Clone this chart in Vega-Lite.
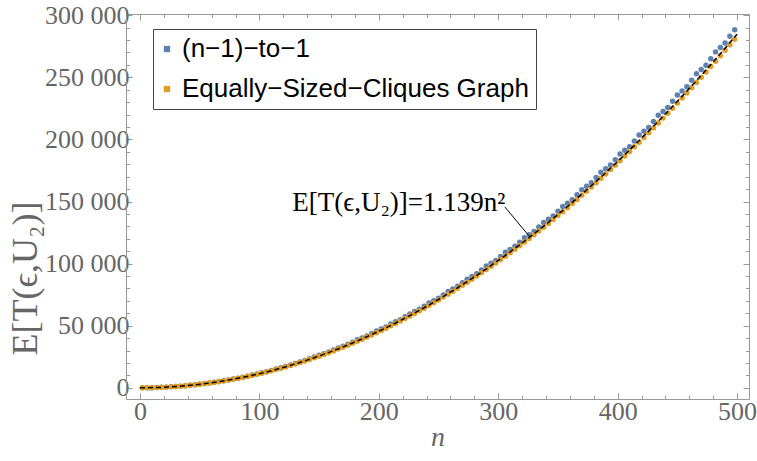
{
  "$schema": "https://vega.github.io/schema/vega-lite/v6.json",
  "width": 623,
  "height": 385,
  "autosize": {"type": "none"},
  "padding": {"left": 126, "top": 14, "right": 8, "bottom": 62},
  "background": "white",
  "config": {
    "view": {"stroke": null},
    "axis": {
      "grid": false,
      "domainColor": "#999999",
      "tickColor": "#999999",
      "labelColor": "#666666",
      "labelFont": "Liberation Serif",
      "labelFontSize": 26,
      "titleFont": "Liberation Serif",
      "titleColor": "#666666",
      "titleFontWeight": "normal",
      "domainWidth": 1,
      "tickWidth": 1,
      "labelOverlap": false,
      "labelFlush": false
    }
  },
  "layer": [
    {
      "data": {
        "values": [
          {"n": 2, "a": 5, "b": 5}, {"n": 6, "a": 42, "b": 41}, {"n": 10, "a": 116, "b": 113}, {"n": 14, "a": 227, "b": 222},
          {"n": 18, "a": 376, "b": 367}, {"n": 22, "a": 561, "b": 548}, {"n": 26, "a": 784, "b": 765}, {"n": 30, "a": 1044, "b": 1019},
          {"n": 34, "a": 1341, "b": 1309}, {"n": 38, "a": 1675, "b": 1635}, {"n": 42, "a": 2046, "b": 1997}, {"n": 46, "a": 2455, "b": 2395},
          {"n": 50, "a": 2900, "b": 2830}, {"n": 54, "a": 3383, "b": 3301}, {"n": 58, "a": 3902, "b": 3808}, {"n": 62, "a": 4459, "b": 4351},
          {"n": 66, "a": 5053, "b": 4931}, {"n": 70, "a": 5684, "b": 5547}, {"n": 74, "a": 6352, "b": 6199}, {"n": 78, "a": 7057, "b": 6887},
          {"n": 82, "a": 7800, "b": 7612}, {"n": 86, "a": 8579, "b": 8372}, {"n": 90, "a": 9396, "b": 9169}, {"n": 94, "a": 10250, "b": 10002},
          {"n": 98, "a": 11141, "b": 10872}, {"n": 102, "a": 12069, "b": 11777}, {"n": 106, "a": 13034, "b": 12719}, {"n": 110, "a": 14036, "b": 13697},
          {"n": 114, "a": 15075, "b": 14711}, {"n": 118, "a": 16152, "b": 15762}, {"n": 122, "a": 17265, "b": 16849}, {"n": 126, "a": 18416, "b": 17972},
          {"n": 130, "a": 19604, "b": 19131}, {"n": 134, "a": 20829, "b": 20326}, {"n": 138, "a": 22091, "b": 21558}, {"n": 142, "a": 23390, "b": 22826},
          {"n": 146, "a": 24727, "b": 24130}, {"n": 150, "a": 26250, "b": 25470}, {"n": 154, "a": 27511, "b": 26847}, {"n": 158, "a": 28850, "b": 28259},
          {"n": 162, "a": 30443, "b": 29708}, {"n": 166, "a": 32150, "b": 31193}, {"n": 170, "a": 33524, "b": 32715}, {"n": 174, "a": 35000, "b": 34272},
          {"n": 178, "a": 36753, "b": 35866}, {"n": 182, "a": 38650, "b": 37496}, {"n": 186, "a": 40131, "b": 39163}, {"n": 190, "a": 41700, "b": 40865},
          {"n": 194, "a": 43658, "b": 42604}, {"n": 198, "a": 45750, "b": 44379}, {"n": 202, "a": 47333, "b": 46190}, {"n": 206, "a": 49000, "b": 48038},
          {"n": 210, "a": 51400, "b": 49921}, {"n": 214, "a": 53123, "b": 51841}, {"n": 218, "a": 54850, "b": 53797}, {"n": 222, "a": 57169, "b": 55789},
          {"n": 226, "a": 59550, "b": 57818}, {"n": 230, "a": 61364, "b": 59883}, {"n": 234, "a": 63250, "b": 61984}, {"n": 238, "a": 65707, "b": 64121},
          {"n": 242, "a": 68300, "b": 66294}, {"n": 246, "a": 70199, "b": 68504}, {"n": 250, "a": 72200, "b": 70750}, {"n": 254, "a": 74839, "b": 73032},
          {"n": 258, "a": 77600, "b": 75350}, {"n": 262, "a": 79627, "b": 77705}, {"n": 266, "a": 81750, "b": 80096}, {"n": 270, "a": 84564, "b": 82523},
          {"n": 274, "a": 87500, "b": 84986}, {"n": 278, "a": 89649, "b": 87485}, {"n": 282, "a": 91900, "b": 90021}, {"n": 286, "a": 94883, "b": 92593},
          {"n": 290, "a": 98000, "b": 95201}, {"n": 294, "a": 100266, "b": 97846}, {"n": 298, "a": 102600, "b": 100526}, {"n": 302, "a": 105797, "b": 103243},
          {"n": 306, "a": 109100, "b": 105996}, {"n": 310, "a": 111476, "b": 108785}, {"n": 314, "a": 113950, "b": 111611}, {"n": 318, "a": 117304, "b": 114472},
          {"n": 322, "a": 120800, "b": 117370}, {"n": 326, "a": 123280, "b": 120304}, {"n": 330, "a": 125850, "b": 123275}, {"n": 334, "a": 129405, "b": 126281},
          {"n": 338, "a": 133100, "b": 129324}, {"n": 342, "a": 135678, "b": 132403}, {"n": 346, "a": 138300, "b": 135519}, {"n": 350, "a": 142100, "b": 138670},
          {"n": 354, "a": 145950, "b": 141858}, {"n": 358, "a": 148670, "b": 145082}, {"n": 362, "a": 151400, "b": 148342}, {"n": 366, "a": 155389, "b": 151638},
          {"n": 370, "a": 159500, "b": 154971}, {"n": 374, "a": 162256, "b": 158340}, {"n": 378, "a": 165100, "b": 161745}, {"n": 382, "a": 169272, "b": 165186},
          {"n": 386, "a": 173550, "b": 168663}, {"n": 390, "a": 176436, "b": 172177}, {"n": 394, "a": 179350, "b": 175727}, {"n": 398, "a": 183749, "b": 179313},
          {"n": 402, "a": 188250, "b": 182936}, {"n": 406, "a": 191210, "b": 186594}, {"n": 410, "a": 194200, "b": 190289}, {"n": 414, "a": 198819, "b": 194020},
          {"n": 418, "a": 203500, "b": 197788}, {"n": 422, "a": 206577, "b": 201591}, {"n": 426, "a": 209700, "b": 205431}, {"n": 430, "a": 214484, "b": 209307},
          {"n": 434, "a": 219400, "b": 213219}, {"n": 438, "a": 222539, "b": 217167}, {"n": 442, "a": 225800, "b": 221152}, {"n": 446, "a": 230743, "b": 225173},
          {"n": 450, "a": 235800, "b": 229230}, {"n": 454, "a": 239095, "b": 233323}, {"n": 458, "a": 242400, "b": 237453}, {"n": 462, "a": 247595, "b": 241619},
          {"n": 466, "a": 252900, "b": 245821}, {"n": 470, "a": 256244, "b": 250059}, {"n": 474, "a": 259700, "b": 254333}, {"n": 478, "a": 265041, "b": 258644},
          {"n": 482, "a": 270500, "b": 262991}, {"n": 486, "a": 273987, "b": 267374}, {"n": 490, "a": 277600, "b": 271793}, {"n": 494, "a": 283082, "b": 276249},
          {"n": 498, "a": 288300, "b": 280741}
        ]
      },
      "transform": [{"fold": ["a", "b"], "as": ["s", "v"]}],
      "mark": {"type": "point", "filled": true, "shape": "circle", "size": 30, "opacity": 1},
      "encoding": {
        "x": {
          "field": "n", "type": "quantitative",
          "scale": {"domain": [-11.7, 510], "nice": false, "zero": false},
          "axis": {
            "orient": "bottom",
            "values": [0, 20, 40, 60, 80, 100, 120, 140, 160, 180, 200, 220, 240, 260, 280, 300, 320, 340, 360, 380, 400, 420, 440, 460, 480, 500],
            "labelExpr": "datum.value % 100 === 0 ? datum.label : ''",
            "tickSize": {"condition": {"test": "datum.value % 100 === 0", "value": -6}, "value": -3.5},
            "labelPadding": 5,
            "title": "n",
            "titleFontStyle": "italic",
            "titleFontSize": 28,
            "titlePadding": -3
          }
        },
        "y": {
          "field": "v", "type": "quantitative",
          "scale": {"domain": [-9000, 301000], "nice": false, "zero": false},
          "axis": {
            "orient": "left",
            "values": [0, 10000, 20000, 30000, 40000, 50000, 60000, 70000, 80000, 90000, 100000, 110000, 120000, 130000, 140000, 150000, 160000, 170000, 180000, 190000, 200000, 210000, 220000, 230000, 240000, 250000, 260000, 270000, 280000, 290000, 300000],
            "labelExpr": "datum.value % 50000 === 0 ? replace(format(datum.value, ','), ',', ' ') : ''",
            "tickSize": {"condition": {"test": "datum.value % 50000 === 0", "value": -6}, "value": -3.5},
            "labelPadding": 3,
            "title": "E[T(ϵ,U₂)]",
            "titleFontSize": 36,
            "titleAngle": 270,
            "titleAlign": "center",
            "titleBaseline": "middle",
            "titleX": -101,
            "titleY": 264
          }
        },
        "color": {
          "field": "s", "type": "nominal",
          "scale": {"domain": ["a", "b"], "range": ["#5E81B5", "#E19C24"]},
          "legend": {
            "title": null,
            "orient": "none",
            "legendX": 27,
            "legendY": 15,
            "symbolType": "square",
            "symbolSize": 40,
            "symbolStrokeWidth": 0,
            "symbolOffset": -6,
            "labelFont": "Liberation Sans",
            "labelFontSize": 26,
            "labelColor": "black",
            "labelLimit": 600,
            "labelOffset": 2,
            "rowPadding": 14,
            "padding": 7,
            "strokeColor": "#444444",
            "fillColor": "white",
            "labelExpr": "datum.value === 'a' ? '(n−1)−to−1' : 'Equally−Sized−Cliques Graph'"
          }
        },
        "order": {"field": "s", "type": "nominal", "sort": "ascending"}
      }
    },
    {
      "data": {
        "values": [
          {"n": 0, "f": 0}, {"n": 20, "f": 455.6}, {"n": 40, "f": 1822.4}, {"n": 60, "f": 4100.4}, {"n": 80, "f": 7289.6},
          {"n": 100, "f": 11390}, {"n": 120, "f": 16401.6}, {"n": 140, "f": 22324.4}, {"n": 160, "f": 29158.4}, {"n": 180, "f": 36903.6},
          {"n": 200, "f": 45560}, {"n": 220, "f": 55127.6}, {"n": 240, "f": 65606.4}, {"n": 260, "f": 76996.4}, {"n": 280, "f": 89297.6},
          {"n": 300, "f": 102510}, {"n": 320, "f": 116633.6}, {"n": 340, "f": 131668.4}, {"n": 360, "f": 147614.4}, {"n": 380, "f": 164471.6},
          {"n": 400, "f": 182240}, {"n": 420, "f": 200919.6}, {"n": 440, "f": 220510.4}, {"n": 460, "f": 241012.4}, {"n": 480, "f": 262425.6},
          {"n": 500, "f": 284750}
        ]
      },
      "mark": {"type": "line", "color": "black", "strokeWidth": 1.5, "strokeDash": [5, 3], "interpolate": "monotone"},
      "encoding": {
        "x": {
          "field": "n", "type": "quantitative",
          "scale": {"domain": [-11.7, 510], "nice": false, "zero": false},
          "axis": {
            "orient": "top",
            "values": [0, 20, 40, 60, 80, 100, 120, 140, 160, 180, 200, 220, 240, 260, 280, 300, 320, 340, 360, 380, 400, 420, 440, 460, 480, 500],
            "labels": false,
            "title": null,
            "tickSize": {"condition": {"test": "datum.value % 100 === 0", "value": -6}, "value": -3.5}
          }
        },
        "y": {
          "field": "f", "type": "quantitative",
          "scale": {"domain": [-9000, 301000], "nice": false, "zero": false},
          "axis": {
            "orient": "right",
            "values": [0, 10000, 20000, 30000, 40000, 50000, 60000, 70000, 80000, 90000, 100000, 110000, 120000, 130000, 140000, 150000, 160000, 170000, 180000, 190000, 200000, 210000, 220000, 230000, 240000, 250000, 260000, 270000, 280000, 290000, 300000],
            "labels": false,
            "title": null,
            "tickSize": {"condition": {"test": "datum.value % 50000 === 0", "value": -6}, "value": -3.5}
          }
        }
      }
    },
    {
      "data": {"values": [{"n": 305.6, "v": 145570, "n2": 326.6, "v2": 121400}]},
      "mark": {"type": "rule", "color": "black", "strokeWidth": 1},
      "encoding": {
        "x": {"field": "n", "type": "quantitative", "axis": null},
        "y": {"field": "v", "type": "quantitative", "axis": null},
        "x2": {"field": "n2"},
        "y2": {"field": "v2"}
      }
    },
    {
      "data": {"values": [{"n": 306, "v": 142600, "t": "E[T(ϵ,U₂)]=1.139n²"}]},
      "mark": {"type": "text", "align": "right", "baseline": "alphabetic", "font": "Liberation Serif", "fontSize": 27, "color": "black"},
      "encoding": {
        "x": {"field": "n", "type": "quantitative", "axis": null},
        "y": {"field": "v", "type": "quantitative", "axis": null},
        "text": {"field": "t"}
      }
    }
  ],
  "resolve": {"axis": {"x": "independent", "y": "independent"}}
}
